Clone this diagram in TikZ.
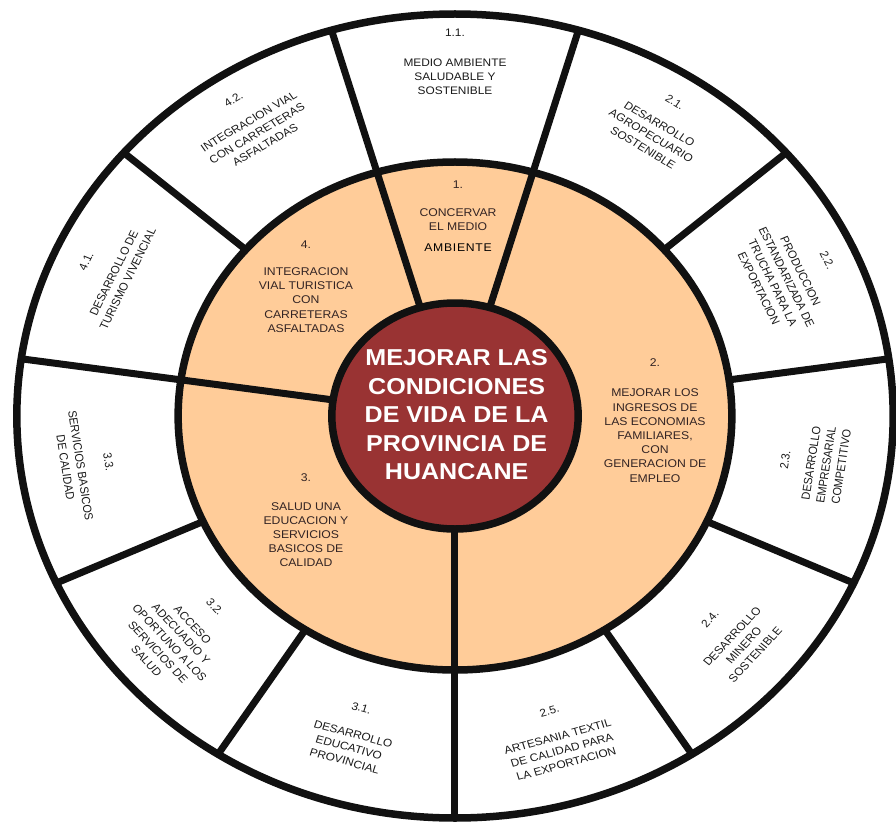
\documentclass[tikz,border=0pt]{standalone}
\usepackage{fontspec}
\setmainfont{Liberation Sans}
\usepackage{xcolor}
\definecolor{hcInk}{HTML}{111111}
\definecolor{hcGrey}{HTML}{1A1A1A}
\definecolor{hcBrown}{HTML}{332424}
\definecolor{hcPeach}{HTML}{FFCC99}
\definecolor{hcWine}{HTML}{993333}
\tikzset{
  ring/.style={draw=hcInk, line width=7.5pt},
  spoke/.style={draw=hcInk, line width=7pt},
  outlbl/.style={font=\fontsize{10.9}{14}\selectfont, align=center, text=hcGrey, inner sep=0pt},
  midlbl/.style={font=\fontsize{11.2}{14.2}\selectfont, align=center, text=hcBrown, inner sep=0pt},
  corelbl/.style={font=\fontsize{23}{28.5}\selectfont\bfseries, align=center, text=white, inner sep=0pt},
}
\begin{document}
\begin{tikzpicture}[x=1pt, y=1pt, xscale=1.09, transform shape]
  \useasboundingbox (-417.43,-406) rectangle (404.59,416);
  % rings and spokes
  \fill[white] (0,0) circle (402);
  \fill[hcPeach] (0,0) circle (254);
  \foreach \a in {-90,73.636,106.364,171.818} \draw[spoke] (\a:113) -- (\a:402);
  \foreach \a in {-57.273,-24.545,8.182,40.909,139.091,204.545,237.273} \draw[spoke] (\a:254) -- (\a:402);
  \draw[ring] (0,0) circle (402) (0,0) circle (254);
  \draw[ring, fill=hcWine] (0,0) circle (113);
  % centre
  \node[corelbl] (core) at (1.5,1) {MEJORAR LAS\\CONDICIONES\\DE VIDA DE LA\\PROVINCIA DE\\HUANCANE};
  % middle band
  \node[midlbl] (m1) at (2.8,200) {1.\\[14pt]CONCERVAR\\EL MEDIO\\[6pt]{\color{black}\addfontfeature{LetterSpace=6}AMBIENTE}};
  \node[midlbl] (m2) at (183.5,-4.5) {2.\\[16pt]MEJORAR LOS\\INGRESOS DE\\LAS ECONOMIAS\\FAMILIARES,\\CON\\GENERACION DE\\EMPLEO};
  \node[midlbl] (m3) at (-136.7,-104.5) {3.\\[14pt]SALUD UNA\\EDUCACION Y\\SERVICIOS\\BASICOS DE\\CALIDAD};
  \node[midlbl] (m4) at (-136.7,129.5) {4.\\[13pt]INTEGRACION\\VIAL TURISTICA\\CON\\CARRETERAS\\ASFALTADAS};
  % outer ring
  \foreach \ang/\rad/\rot/\txt [count=\i] in {
    -73.64/335/16.36/{2.5.\\[13pt]ARTESANIA TEXTIL\\DE CALIDAD PARA\\LA EXPORTACION},
    -40.91/337/49.09/{2.4.\\[13pt]DESARROLLO\\MINERO\\SOSTENIBLE},
    -8.18/332/81.82/{2.3.\\[10pt]DESARROLLO\\EMPRESARIAL\\COMPETITIVO},
    24.55/341/-65.45/{2.2.\\[13pt]PRODUCCION\\ESTANDARIZADA DE\\TRUCHA PARA LA\\EXPORTACION},
    57.27/346/-32.73/{2.1.\\[12pt]DESARROLLO\\AGROPECUARIO\\SOSTENIBLE},
    90/354/0/{1.1.\\[16pt]MEDIO AMBIENTE\\SALUDABLE Y\\SOSTENIBLE},
    122.73/349/32.73/{4.2.\\[12pt]INTEGRACION VIAL\\CON CARRETERAS\\ASFALTADAS},
    155.45/351/65.45/{4.1.\\[14pt]DESARROLLO DE\\TURISMO VIVENCIAL},
    188.18/341/-81.82/{3.3.\\[12pt]SERVICIOS BASICOS\\DE CALIDAD},
    220.91/333/-49.09/{3.2.\\[13pt]ACCESO\\ADECUADIO Y\\OPORTUNO A LOS\\SERVICIOS DE\\SALUD},
    253.64/332/-16.36/{3.1.\\[13pt]DESARROLLO\\EDUCATIVO\\PROVINCIAL}}
    \node[outlbl, rotate=\rot] (o\i) at (\ang:\rad) {\txt};
\end{tikzpicture}
\end{document}
